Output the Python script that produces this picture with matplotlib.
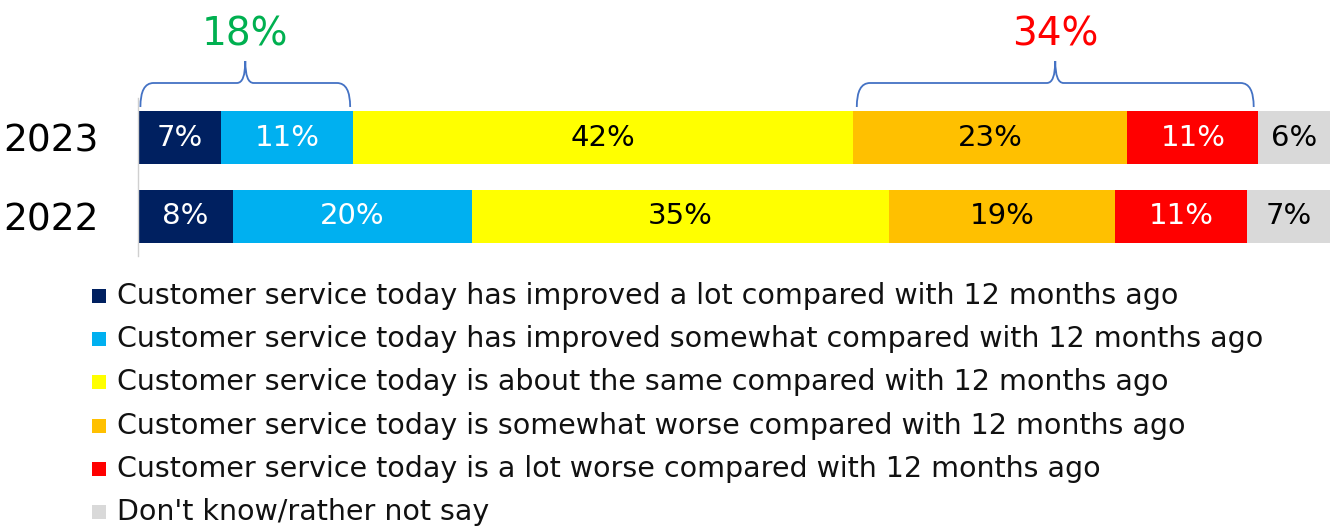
import matplotlib
matplotlib.use("Agg")
import matplotlib.pyplot as plt
from matplotlib.patches import Rectangle, PathPatch
from matplotlib.path import Path
from matplotlib.transforms import blended_transform_factory

# Survey results (percent of respondents)
years = ["2023", "2022"]
categories = [
    "Customer service today has improved a lot compared with 12 months ago",
    "Customer service today has improved somewhat compared with 12 months ago",
    "Customer service today is about the same compared with 12 months ago",
    "Customer service today is somewhat worse compared with 12 months ago",
    "Customer service today is a lot worse compared with 12 months ago",
    "Don't know/rather not say",
]
values_2023 = [7, 11, 42, 23, 11, 6]
values_2022 = [8, 20, 35, 19, 11, 7]
colors = ["#002060", "#00B0F0", "#FFFF00", "#FFC000", "#FF0000", "#D9D9D9"]
label_colors = ["white", "white", "black", "black", "white", "black"]

improved_2023 = values_2023[0] + values_2023[1]
worse_2023 = values_2023[3] + values_2023[4]

FONT = "DejaVu Sans"
W, H = 1337, 532
fig = plt.figure(figsize=(W / 100, H / 100), dpi=100)

ax_left, ax_right = 138 / W, 1330 / W
ax_top, ax_bottom = 98 / H, 256 / H
ax = fig.add_axes([ax_left, 1 - ax_bottom, ax_right - ax_left, ax_bottom - ax_top])

rows = {"2023": (1, values_2023), "2022": (0, values_2022)}
for year in years:
    ypos, vals = rows[year]
    left = 0
    for v, c, tc in zip(vals, colors, label_colors):
        ax.barh(ypos, v, left=left, height=0.66, color=c, edgecolor="none")
        ax.text(left + v / 2, ypos, f"{v}%", ha="center", va="center",
                color=tc, fontsize=21, family=FONT)
        left += v

ax.set_xlim(0, 100)
ax.set_ylim(-0.5, 1.5)
ax.set_yticks([rows[y][0] for y in years])
ax.set_yticklabels(years, fontsize=27, family=FONT)
ax.tick_params(axis="y", length=0, pad=28)
ax.set_xticks([])
for side in ["top", "right", "bottom"]:
    ax.spines[side].set_visible(False)
ax.spines["left"].set_color("#D0D0D0")
ax.spines["left"].set_linewidth(1)


def brace(x0, x1, y_end, y_bar, y_tip, color):
    """Curly brace opening downwards, x in data units, y in figure fraction."""
    tr = blended_transform_factory(ax.transData, fig.transFigure)
    xm = (x0 + x1) / 2
    r = 1.1
    rm = 0.7
    verts = [
        (x0, y_end),
        (x0, y_bar), (x0 + r, y_bar),
        (xm - rm, y_bar),
        (xm, y_bar), (xm, y_tip),
        (xm, y_tip),
        (xm, y_bar), (xm + rm, y_bar),
        (x1 - r, y_bar),
        (x1, y_bar), (x1, y_end),
    ]
    codes = [Path.MOVETO,
             Path.CURVE3, Path.CURVE3,
             Path.LINETO,
             Path.CURVE3, Path.CURVE3,
             Path.MOVETO,
             Path.CURVE3, Path.CURVE3,
             Path.LINETO,
             Path.CURVE3, Path.CURVE3]
    patch = PathPatch(Path(verts, codes), transform=tr, fill=False,
                      edgecolor=color, linewidth=1.3, clip_on=False)
    fig.add_artist(patch)
    return xm


def fy(px):
    return 1 - px / H


brace_color = "#4472C4"
xm1 = brace(0.2, improved_2023 - 0.2, fy(107), fy(83), fy(61), brace_color)
fig.text(ax_left + (ax_right - ax_left) * xm1 / 100, fy(34), f"{improved_2023}%",
         ha="center", va="center", color="#00B050", fontsize=28, family=FONT)
worse_start = sum(values_2023[:3])
xm2 = brace(worse_start + 0.3, worse_start + worse_2023 - 0.4, fy(107), fy(83),
            fy(61), brace_color)
fig.text(ax_left + (ax_right - ax_left) * xm2 / 100, fy(34), f"{worse_2023}%",
         ha="center", va="center", color="#FF0000", fontsize=28, family=FONT)

# Legend drawn as a vertical list of coloured squares and labels
leg_y0, leg_dy = 296, 43.2
for i, (lab, c) in enumerate(zip(categories, colors)):
    yc = leg_y0 + i * leg_dy
    fig.add_artist(Rectangle((92 / W, fy(yc + 7)), 14 / W, 14 / H,
                             transform=fig.transFigure, color=c, lw=0))
    fig.text(117 / W, fy(yc), lab, ha="left", va="center", fontsize=20.5,
             family=FONT, color="#111111")

fig.savefig("out.png", dpi=100)
